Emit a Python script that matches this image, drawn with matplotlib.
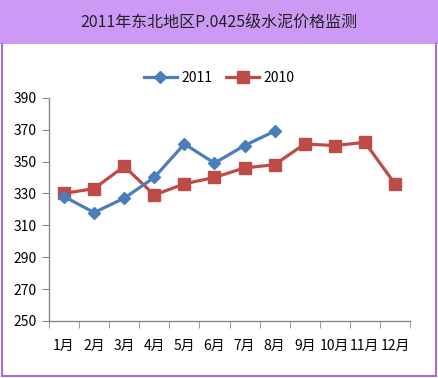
import matplotlib
matplotlib.use("Agg")
import matplotlib.pyplot as plt
from matplotlib.patches import Rectangle
from matplotlib.lines import Line2D

plt.rcParams['font.family'] = ['Noto Sans CJK SC', 'DejaVu Sans']

title = "2011年东北地区P.0425级水泥价格监测"
months = ["1月", "2月", "3月", "4月", "5月", "6月", "7月", "8月", "9月", "10月", "11月", "12月"]
s2011 = [328, 318, 327, 340, 361, 349, 360, 369]
s2010 = [330, 333, 347, 329, 336, 340, 346, 348, 361, 360, 362, 336]
yticks = [250, 270, 290, 310, 330, 350, 370, 390]

W, H = 438, 378
fig = plt.figure(figsize=(W/100, H/100), dpi=100)
fig.patch.set_facecolor("white")

# title band
fig.add_artist(Rectangle((0, 1-44/H), 1, 44/H, transform=fig.transFigure,
                         facecolor="#cc99f5", edgecolor="none", zorder=0))
# purple frame
border = "#a070d8"
fig.add_artist(Line2D([2/W, 2/W], [2/H, 1-44/H], transform=fig.transFigure, color=border, lw=1.5))
fig.add_artist(Line2D([1-2/W, 1-2/W], [2/H, 1-44/H], transform=fig.transFigure, color=border, lw=1.5))
fig.add_artist(Line2D([2/W, 1-2/W], [2/H, 2/H], transform=fig.transFigure, color=border, lw=1.5))
fig.text(0.5, 1-22/H, title, ha="center", va="center", fontsize=11.5, color="#222222")

ax = fig.add_axes([49/W, 1-321/H, (410-49)/W, (321-97.7)/H])
x = list(range(len(months)))
ax.plot(x[:len(s2011)], s2011, color="#4a7ebb", lw=2.3, marker="D", ms=6.5,
        markeredgecolor="#4a7ebb", label="2011", zorder=3)
ax.plot(x, s2010, color="#be4b48", lw=2.3, marker="s", ms=8,
        markeredgecolor="#be4b48", label="2010", zorder=2)

ax.set_xlim(-0.5, 11.5)
ax.set_ylim(250, 390)
ax.set_yticks(yticks)
ax.set_xticks(x)
ax.set_xticklabels(months)
ax.set_xticks([i - 0.5 for i in range(13)], minor=True)
ax.tick_params(axis="x", which="major", length=0, pad=13, labelsize=10)
ax.tick_params(axis="x", which="minor", length=5, color="#888888", direction="out")
ax.tick_params(axis="y", length=5, color="#888888", labelsize=10, pad=4)
for s in ["top", "right"]:
    ax.spines[s].set_visible(False)
for s in ["left", "bottom"]:
    ax.spines[s].set_color("#888888")
    ax.spines[s].set_linewidth(1.0)

leg = fig.legend(loc="center", bbox_to_anchor=(0.5, 1-78/H), ncol=2, frameon=False,
                 fontsize=10, handlelength=2.4, columnspacing=1.0, handletextpad=0.3)

fig.savefig("out.png", dpi=100)
